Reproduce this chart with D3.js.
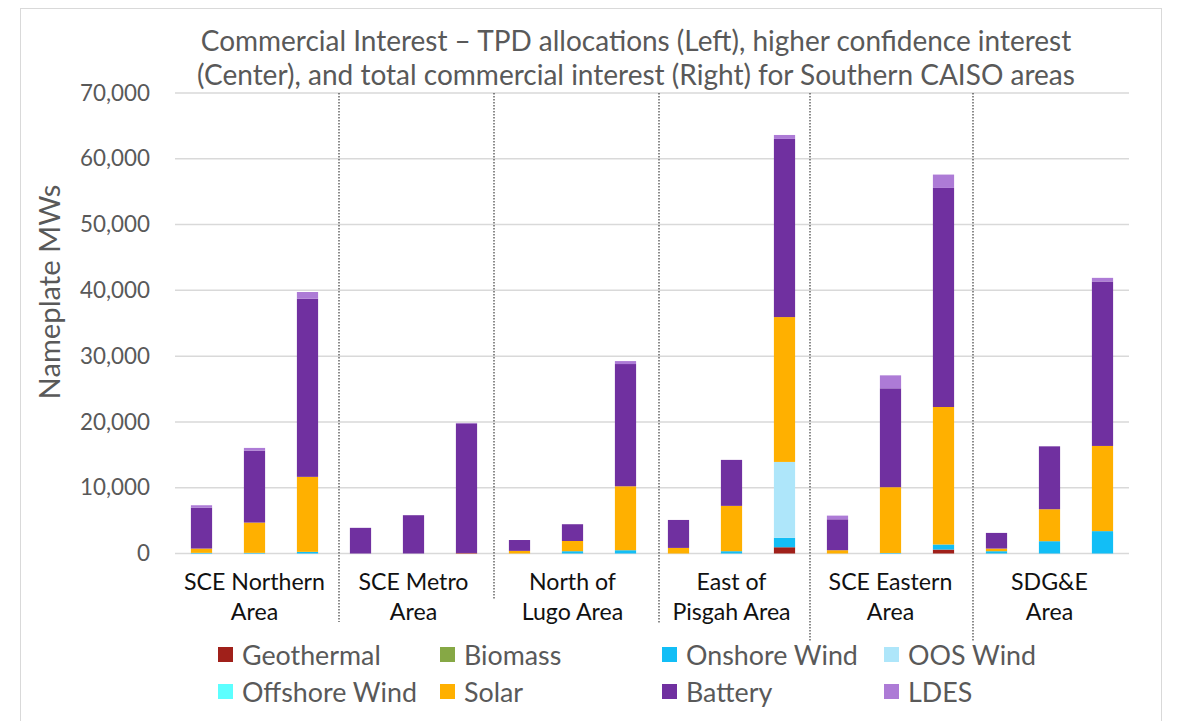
<!DOCTYPE html>
<html>
<head>
<meta charset="utf-8">
<script src="https://cdn.jsdelivr.net/npm/d3@7"></script>
<style>
  html, body { margin: 0; padding: 0; background: #fff; }
  svg { display: block; }
  text { font-family: Lato, "Noto Sans", sans-serif; }
</style>
</head>
<body>
<svg id="chart" width="1179" height="721"></svg>
<script>
// ---------- DATA ----------
const groups = [
  ["SCE Northern", "Area"],
  ["SCE Metro", "Area"],
  ["North of", "Lugo Area"],
  ["East of", "Pisgah Area"],
  ["SCE Eastern", "Area"],
  ["SDG&E", "Area"]
];
const barTypes = ["TPD allocations", "Higher confidence interest", "Total commercial interest"];

const seriesNames = ["Geothermal", "Biomass", "Onshore Wind", "OOS Wind", "Offshore Wind", "Solar", "Battery", "LDES"];
const seriesColors = ["#A0201A", "#86A845", "#12BEF6", "#AEE6FA", "#5CFFFF", "#FFB000", "#7030A0", "#AD7BD6"];

// 18 bars: per group [TPD, higher confidence, total]
const geothermal  = [0, 0, 0,      0, 0, 80,      0, 0, 0,       0, 0, 950,      0, 0, 600,       0, 0, 0];
const biomass     = [0, 0, 0,      0, 0, 0,       0, 0, 0,       0, 0, 0,        0, 0, 0,         0, 0, 0];
const onshoreWind = [100, 100, 250, 0, 0, 0,      0, 350, 500,   0, 350, 1430,   0, 80, 770,      350, 1870, 3400];
const oosWind     = [0, 0, 0,      0, 0, 0,       0, 0, 0,       0, 0, 11540,    0, 0, 0,         0, 0, 0];
const offshoreWind= [0, 0, 0,      0, 0, 0,       0, 0, 0,       0, 0, 0,        0, 0, 0,         0, 0, 0];
const solar       = [650, 4600, 11400, 0, 0, 0,   400, 1550, 9720, 850, 6890, 22020, 500, 10000, 20900, 400, 4860, 12950];
const battery     = [6225, 10940, 27080, 3900, 5820, 19700, 1650, 2550, 18580, 4250, 6990, 27080, 4700, 15030, 33300, 2380, 9560, 25000];
const ldes        = [360, 410, 1020, 0, 0, 70,    0, 0, 450,     0, 0, 600,      560, 1970, 2030, 0, 0, 550];

const yTicks = [0, 10000, 20000, 30000, 40000, 50000, 60000, 70000];
const titleLines = [
  "Commercial Interest \u2013 TPD allocations (Left), higher confidence interest",
  "(Center), and total commercial interest (Right) for Southern CAISO areas"
];
const yTitle = "Nameplate MWs";

// ---------- BUILD ----------
const seriesValues = [geothermal, biomass, onshoreWind, oosWind, offshoreWind, solar, battery, ldes];
const rows = d3.range(groups.length * barTypes.length).map(i => {
  const r = { idx: i };
  seriesNames.forEach((s, k) => r[s] = seriesValues[k][i]);
  return r;
});
const stacked = d3.stack().keys(seriesNames)(rows);

const svg = d3.select("#chart");
const plot = { left: 175, right: 1129, top: 93, bottom: 553.5 };

// chart-area border
svg.append("rect").attr("x", 20.5).attr("y", 8.5).attr("width", 1141).attr("height", 730)
  .attr("fill", "#fff").attr("stroke", "#d9d9d9").attr("stroke-width", 1);

const x = d3.scaleBand().domain(rows.map(r => r.idx)).range([plot.left, plot.right])
  .paddingInner(0.6).paddingOuter(0.3);
const y = d3.scaleLinear().domain([0, 70000]).range([plot.bottom, plot.top]);

function fit(sel, target) {
  const w = sel.node().getComputedTextLength();
  const fs = parseFloat(sel.attr("font-size"));
  const nf = fs * target / w;
  sel.attr("font-size", nf);
  return nf;
}

// gridlines
svg.append("g").selectAll("line").data(yTicks).join("line")
  .attr("x1", plot.left).attr("x2", plot.right)
  .attr("y1", d => y(d)).attr("y2", d => y(d))
  .attr("stroke", "#d9d9d9").attr("stroke-width", 1.5);

// y axis labels via d3 axis
const yAxis = d3.axisLeft(y).tickValues(yTicks).tickFormat(d3.format(",")).tickSize(0).tickPadding(0);
const yg = svg.append("g").attr("transform", `translate(150,0)`).call(yAxis);
yg.select(".domain").remove();
yg.selectAll("text").attr("font-size", 22).attr("fill", "#595959")
  .attr("font-family", "Lato, 'Noto Sans', sans-serif");
const t70 = yg.selectAll("text").filter(d => d === 70000);
const tickFs = fit(t70, 70);
yg.selectAll("text").attr("font-size", tickFs);

// bars
svg.append("g").selectAll("g").data(stacked).join("g")
  .attr("fill", (d, i) => seriesColors[i])
  .selectAll("rect").data(d => d).join("rect")
  .attr("x", d => x(d.data.idx))
  .attr("width", x.bandwidth())
  .attr("y", d => y(d[1]))
  .attr("height", d => Math.max(0, y(d[0]) - y(d[1])));

// dividers (hand-placed dotted separators between areas)
const dividerShift = [5, 1, 7, -1, 3];
const dividerBottom = [622, 599, 624, 641, 641];
const step = x.step();
d3.range(1, groups.length).forEach((g, i) => {
  const xb = x(g * 3) - (step - x.bandwidth()) / 2 + dividerShift[i];
  svg.append("line").attr("x1", xb).attr("x2", xb)
    .attr("y1", plot.top).attr("y2", dividerBottom[i])
    .attr("stroke", "#404040").attr("stroke-width", 1.2)
    .attr("stroke-dasharray", "1.6,1.4");
});

// category labels
const catG = svg.append("g");
let catFs = 24;
groups.forEach((lines, g) => {
  const cx = x(g * 3 + 1) + x.bandwidth() / 2;
  lines.forEach((ln, j) => {
    const t = catG.append("text").attr("x", cx).attr("y", 590 + j * 30)
      .attr("text-anchor", "middle").attr("fill", "#111").attr("font-size", catFs).text(ln);
    if (g === 0 && j === 0) catFs = fit(t, 141);
  });
});
catG.selectAll("text").attr("font-size", catFs);

// title
const tg = svg.append("g");
titleLines.forEach((ln, j) => {
  const t = tg.append("text").attr("x", 636).attr("y", 51 + j * 34)
    .attr("text-anchor", "middle").attr("fill", "#595959").attr("font-size", 24).text(ln);
  fit(t, j === 0 ? 871 : 878);
});

// y axis title
const yt = svg.append("text").attr("transform", "translate(60,292) rotate(-90)")
  .attr("text-anchor", "middle").attr("fill", "#595959").attr("font-size", 24).text(yTitle);
fit(yt, 215);

// legend: equal-width columns
const legLeft = 218, legColW = 222;
const legRows = [655, 692];
const lg = svg.append("g");
let legFs = 24;
seriesNames.forEach((s, i) => {
  const cx = legLeft + (i % 4) * legColW, cy = legRows[Math.floor(i / 4)];
  lg.append("rect").attr("x", cx).attr("y", cy - 8).attr("width", 15).attr("height", 15)
    .attr("fill", seriesColors[i]);
  const t = lg.append("text").attr("x", cx + 24).attr("y", cy).attr("dy", "0.36em")
    .attr("fill", "#595959").attr("font-size", legFs).text(s);
  if (i === 2) legFs = fit(t, 172);
});
lg.selectAll("text").attr("font-size", legFs);
</script>
</body>
</html>
